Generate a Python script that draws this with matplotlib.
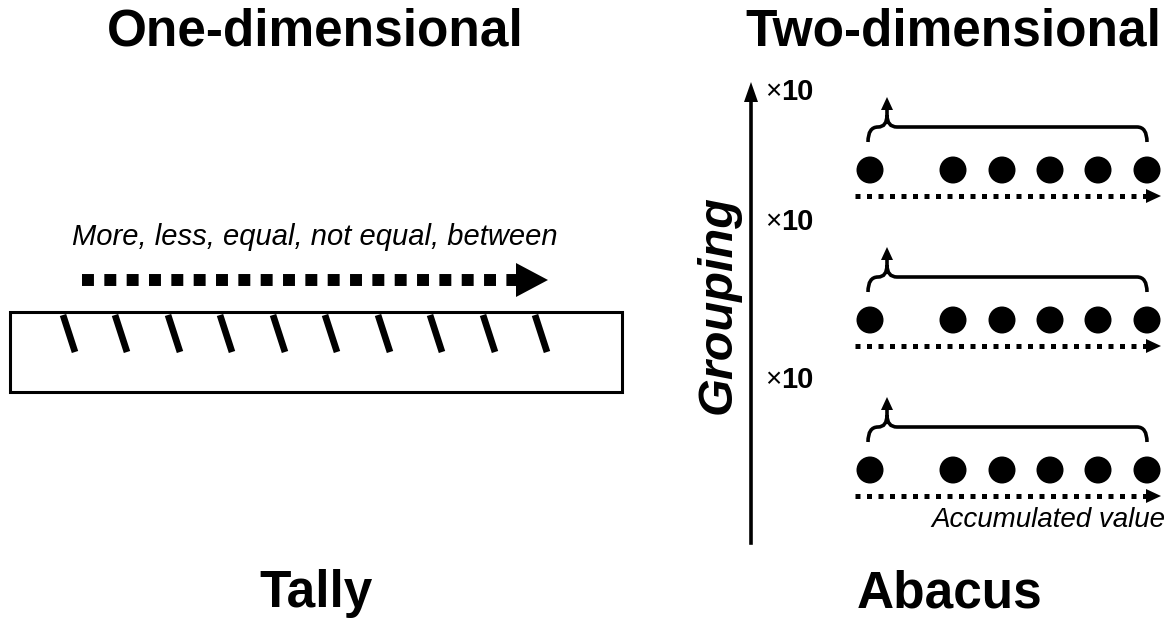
import matplotlib
matplotlib.use("Agg")
import matplotlib.pyplot as plt
from matplotlib.patches import Polygon, Rectangle, Circle, PathPatch
from matplotlib.path import Path

plt.rcParams['font.family'] = ['Liberation Sans', 'DejaVu Sans']

# --- diagram content ---
titles = ["One-dimensional", "Two-dimensional"]
captions = ["Tally", "Abacus"]
compare_text = "More, less, equal, not equal, between"
axis_label = "Grouping"
factor_label = ("×", "10")
value_label = "Accumulated value"

tally_tops = [63, 115, 168, 220, 273, 325, 378, 430, 483, 535]  # x of each tally mark (top end)
row_y = [170, 320, 470]                                         # y of each bead row
bead_x = [870, 953, 1002, 1050, 1098, 1147]                     # bead centres within a row
factor_y = [92, 222, 380]                                       # y of the ×10 labels

W, H = 1169, 620
fig = plt.figure(figsize=(W / 100, H / 100), dpi=100)
ax = fig.add_axes([0, 0, 1, 1])
ax.set_xlim(0, W)
ax.set_ylim(H, 0)
ax.axis('off')


def head(tip, direction, length, width):
    # filled triangle arrow head, direction 'right' or 'up'
    x, y = tip
    if direction == 'right':
        pts = [(x, y), (x - length, y - width / 2), (x - length, y + width / 2)]
    else:
        pts = [(x, y), (x - width / 2, y + length), (x + width / 2, y + length)]
    ax.add_patch(Polygon(pts, closed=True, color='black', lw=0))


# titles and captions
ax.text(315, 32, titles[0], ha='center', va='center', fontsize=37, fontweight='bold')
ax.text(953, 32, titles[1], ha='center', va='center', fontsize=37, fontweight='bold')
ax.text(316, 594, captions[0], ha='center', va='center', fontsize=37, fontweight='bold')
ax.text(950, 594, captions[1], ha='center', va='center', fontsize=37, fontweight='bold')

# ---- left: tally ----
ax.text(315, 237, compare_text, ha='center', va='center', fontsize=21, style='italic')
ax.plot([82, 516], [280, 280], color='black', lw=8.6,
        dash_capstyle='butt', linestyle=(0, (1, 0.87)))
head((548, 280), 'right', 32, 34)

ax.add_patch(Rectangle((10, 312), 612, 80, fill=False, lw=2.2, ec='black'))
for xt in tally_tops:
    ax.plot([xt, xt + 12], [315, 352], color='black', lw=4.8, solid_capstyle='butt')

# ---- right: abacus ----
ax.plot([751, 751], [543, 100], color='black', lw=2.6)
head((751, 82), 'up', 20, 14)
ax.text(718, 305, axis_label, ha='center', va='center', rotation=90, fontsize=35,
        fontweight='bold', style='italic')
for fy in factor_y:
    ax.text(765, fy, factor_label[0], ha='left', va='center', fontsize=20)
    ax.text(781, fy, factor_label[1], ha='left', va='center', fontsize=21, fontweight='bold')

for yd in row_y:
    for bx in bead_x:
        ax.add_patch(Circle((bx, yd), 13.5, color='black', lw=0))
    # dotted arrow under beads
    ax.plot([855, 1146], [yd + 26, yd + 26], color='black', lw=3.6,
            dash_capstyle='butt', linestyle=(0, (1, 1.3)))
    head((1161, yd + 26), 'right', 15, 14)
    # brace over beads with carry arrow
    verts = [(868, yd - 28),
             (868, yd - 43), (878, yd - 43),
             (887, yd - 43), (887, yd - 55),
             (887, yd - 43), (897, yd - 43),
             (1137, yd - 43),
             (1147, yd - 43), (1147, yd - 28)]
    codes = [Path.MOVETO, Path.CURVE3, Path.CURVE3, Path.CURVE3, Path.CURVE3,
             Path.CURVE3, Path.CURVE3, Path.LINETO, Path.CURVE3, Path.CURVE3]
    ax.add_patch(PathPatch(Path(verts, codes), fill=False, lw=2.6, ec='black'))
    ax.plot([887, 887], [yd - 55, yd - 62], color='black', lw=2.6)
    head((887, yd - 73), 'up', 13, 12)

ax.text(1165, 520, value_label, ha='right', va='center', fontsize=20, style='italic')

fig.savefig("out.png", dpi=100)
